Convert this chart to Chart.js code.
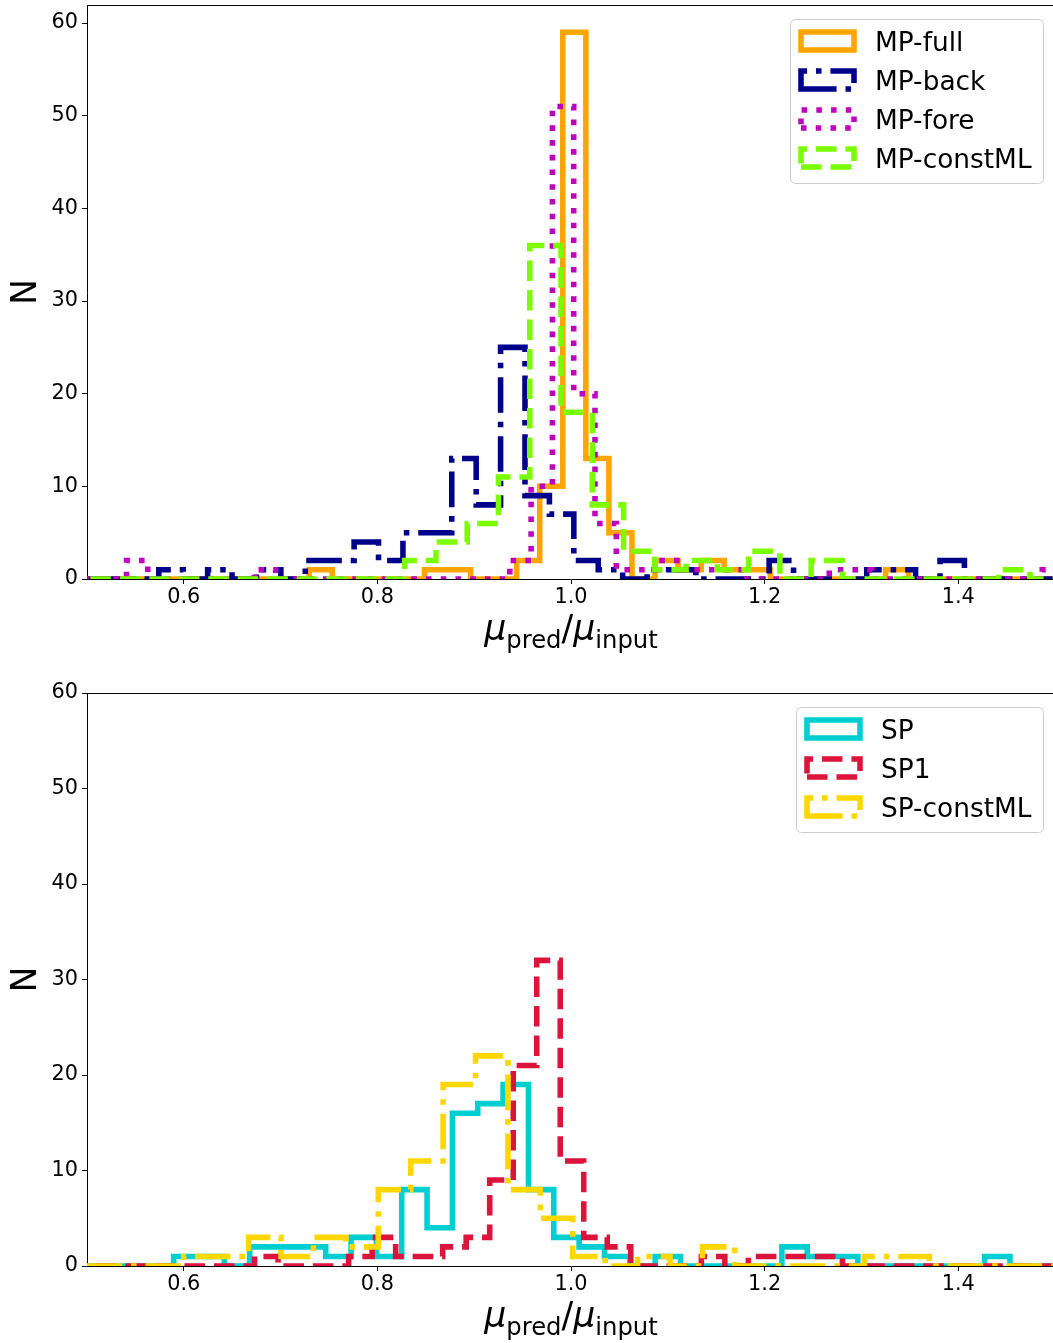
<!DOCTYPE html>
<html>
<head>
<meta charset="utf-8">
<title>Ratio histograms</title>
<script src="https://cdn.jsdelivr.net/npm/chart.js@4.4.1/dist/chart.umd.min.js"></script>
<style>
  html, body { margin: 0; padding: 0; background: #ffffff; overflow: hidden; }
  canvas { position: absolute; left: 0; display: block; }
  #mpPanel { top: 0; }
  #spPanel { top: 671px; }
</style>
</head>
<body>
<canvas id="mpPanel" width="1056" height="671"></canvas>
<canvas id="spPanel" width="1056" height="672"></canvas>
<script>
// ---- axis ticks ----
const xTickValues = [0.6, 0.8, 1.0, 1.2, 1.4];
const yTickValues = [0, 10, 20, 30, 40, 50, 60];

// ---- MP runs (upper panel): first bin edge, bin width, counts ----
const mpFullStart = 0.4913, mpFullWidth = 0.02382;
const mpFullCounts = [0,0,0,0,0,0,0,0,0,0, 1, 0,0,0,0, 1,1, 0,0,
  2,10,59,13,5,0,2,1,2,1,1, 0,0,0,0,0, 1, 0,0,0,0,0,0,0];

const mpBackStart = 0.4733, mpBackWidth = 0.02522;
const mpBackCounts = [0,0,0,0,1,0,1,0,1,0,2,2,4,2,5,5,13,8,25,9,7,2,1,0,1,1,
  0,0,0,2,0,0,0,1,1,0,2,0,0,0,0];

const mpForeStart = 0.4968, mpForeWidth = 0.02200;
const mpForeCounts = [0,0, 2, 0,0,0,0,0, 1, 0,0,0,0,0,0,0,0,0,0,0,
  2,10,51,20,6,1,1,2,1,1,1, 0,0,0,0, 1,1, 0,0,0,0,0,0,0,0, 1];

const mpConstStart = 0.4729, mpConstWidth = 0.03230;
const mpConstCounts = [0,0,0,0,0,0,0,0,0,0,0,
  2,4,6,11,36,18,8,3,1,2,1,3,0,2, 0,0,0,0,0, 1, 0];

// ---- SP runs (lower panel) ----
const spStart = 0.4848, spWidth = 0.02618;
const spCounts = [0,0,0,0, 1,1,0,2,2,2,1,3,1,
  8,4,16,17,19,8,3,2,1,0,1, 0,0,0,0, 2,1,1, 0,0,0,0,0, 1, 0,0,0];

const sp1Start = 0.4788, sp1Width = 0.02429;
const sp1Counts = [0,0,0,0,0,0,0,0, 1,0,0,0,1,3,1,1,2,3,9,21,
  32,11,3,2,0,0,0,1,0,1,1,1,1, 0,0,0,0,0,0,0,0,0,0];

const spConstStart = 0.4660, spConstWidth = 0.03349;
const spConstCounts = [1,0,0,0,1,1,3,1,3,2,8,
  11,19,22,8,5,1,0,1,0,2, 0,0,0,0, 1,1, 0,0,0,0,0];

const mpLabels = ['MP-full', 'MP-back', 'MP-fore', 'MP-constML'];
const spLabels = ['SP', 'SP1', 'SP-constML'];

// ---- styling ----
const LINE_W = 5.56;
const DASH = {
  solid: [],
  dashed: [20.6, 8.9],
  dashdot: [35.6, 8.9, 5.56, 8.9],
  dotted: [5.56, 9.17]
};
const FONT = '"DejaVu Sans", "Liberation Sans", sans-serif';
Chart.defaults.font.family = FONT;
Chart.defaults.color = '#000000';

// step outline of a histogram: rise at the first edge, one point per bin, drop at the last edge
function stepOutline(start, width, counts) {
  const pts = [{ x: start, y: 0 }];
  counts.forEach((c, i) => pts.push({ x: start + i * width, y: c }));
  pts.push({ x: start + counts.length * width, y: 0 });
  return pts;
}

// top and right spines
const spinePlugin = {
  id: 'spines',
  afterDraw(chart) {
    const { ctx, chartArea: a } = chart;
    ctx.save();
    ctx.strokeStyle = '#000000';
    ctx.lineWidth = 1;
    ctx.beginPath();
    ctx.moveTo(a.left, a.top + 0.5);
    ctx.lineTo(a.right, a.top + 0.5);
    ctx.moveTo(a.right - 0.5, a.top);
    ctx.lineTo(a.right - 0.5, a.bottom);
    ctx.stroke();
    ctx.restore();
  }
};

// x-axis label  mu_pred / mu_input  with subscripts
const ratioLabelPlugin = {
  id: 'ratioLabel',
  afterDraw(chart) {
    const { ctx, chartArea: a } = chart;
    const big = 34.7, small = 24.3, drop = 7.5;
    const parts = [
      { t: 'μ', f: `oblique ${big}px ${FONT}`, dy: 0 },
      { t: 'pred', f: `${small}px ${FONT}`, dy: drop },
      { t: '/', f: `${big}px ${FONT}`, dy: 0 },
      { t: 'μ', f: `oblique ${big}px ${FONT}`, dy: 0 },
      { t: 'input', f: `${small}px ${FONT}`, dy: drop }
    ];
    ctx.save();
    let total = 0;
    parts.forEach(p => { ctx.font = p.f; p.w = ctx.measureText(p.t).width; total += p.w; });
    let x = (a.left + a.right) / 2 - total / 2;
    const base = a.bottom + 61;
    ctx.fillStyle = '#000000';
    ctx.textBaseline = 'alphabetic';
    ctx.textAlign = 'left';
    parts.forEach(p => { ctx.font = p.f; ctx.fillText(p.t, x, base + p.dy); x += p.w; });
    ctx.restore();
  }
};

// framed legend inside the upper-right corner of the plot
const boxLegendPlugin = {
  id: 'boxLegend',
  afterDraw(chart) {
    const { ctx, chartArea: a } = chart;
    const sets = chart.data.datasets;
    const fs = 26.4, rowH = 39;
    ctx.save();
    ctx.font = `${fs}px ${FONT}`;
    const textW = Math.max(...sets.map(d => ctx.measureText(d.label).width));
    const right = a.right - 11.5;
    const left = Math.round(right - (84.5 + textW + 12)) + 0.5;
    const top = a.top + 14.5;
    const h = sets.length * rowH + 8;
    ctx.beginPath();
    ctx.roundRect(left, top, right - left, h, 5);
    ctx.fillStyle = 'rgba(255,255,255,0.8)';
    ctx.fill();
    ctx.strokeStyle = '#cccccc';
    ctx.lineWidth = 1;
    ctx.stroke();
    sets.forEach((d, i) => {
      const cy = top + 21.5 + i * rowH;
      const hx = left + 10.5, hw = 53, hh = 18, hy = cy - hh / 2;
      ctx.beginPath();
      ctx.moveTo(hx, hy + hh);
      ctx.lineTo(hx + hw, hy + hh);
      ctx.lineTo(hx + hw, hy);
      ctx.lineTo(hx, hy);
      ctx.closePath();
      ctx.setLineDash(d.borderDash);
      ctx.lineWidth = LINE_W;
      ctx.lineJoin = 'miter';
      ctx.lineCap = 'butt';
      ctx.strokeStyle = d.borderColor;
      ctx.stroke();
      ctx.setLineDash([]);
      ctx.fillStyle = '#000000';
      ctx.textBaseline = 'alphabetic';
      ctx.textAlign = 'left';
      ctx.fillText(d.label, hx + hw + 21, cy + 0.3645 * fs);
    });
    ctx.restore();
  }
};

function makePanel(canvasId, series, yMax, padTop, areaBottom) {
  const canvas = document.getElementById(canvasId);
  const H = canvas.height;
  const tickGrid = {
    display: true, drawOnChartArea: false, drawTicks: true,
    tickLength: 5, tickWidth: 1, tickColor: '#000000'
  };
  return new Chart(canvas, {
    type: 'line',
    data: {
      datasets: series.map((s, i) => ({
        label: s.label,
        data: stepOutline(s.start, s.width, s.counts),
        borderColor: s.color,
        backgroundColor: 'transparent',
        borderWidth: LINE_W,
        borderDash: s.dash,
        borderJoinStyle: 'miter',
        borderCapStyle: 'butt',
        stepped: 'before',
        pointRadius: 0,
        pointHoverRadius: 0,
        fill: false,
        clip: 0,
        order: series.length - i
      }))
    },
    options: {
      responsive: false,
      animation: false,
      devicePixelRatio: 1,
      events: [],
      layout: { padding: { top: padTop, right: 1, bottom: 0, left: 0 } },
      plugins: { legend: { display: false }, tooltip: { enabled: false } },
      scales: {
        x: {
          type: 'linear', min: 0.5, max: 1.5, z: 1,
          grid: tickGrid,
          border: { display: true, color: '#000000', width: 1 },
          ticks: {
            color: '#000000', font: { size: 20.8 }, padding: 1,
            maxRotation: 0, autoSkip: false,
            callback: v => Number(v).toFixed(1)
          },
          afterBuildTicks: sc => { sc.ticks = xTickValues.map(v => ({ value: v })); },
          afterFit: sc => { sc.height = H - areaBottom; sc.paddingLeft = 0; sc.paddingRight = 0; }
        },
        y: {
          type: 'linear', min: 0, max: yMax, z: 1,
          grid: tickGrid,
          border: { display: true, color: '#000000', width: 1 },
          ticks: { color: '#000000', font: { size: 20.8 }, padding: 4 },
          title: {
            display: true, text: 'N', color: '#000000',
            font: { size: 34.7 }, padding: { top: 6, bottom: 0 }
          },
          afterBuildTicks: sc => { sc.ticks = yTickValues.map(v => ({ value: v })); },
          afterFit: sc => { sc.width = 87; sc.paddingTop = 0; sc.paddingBottom = 0; }
        }
      }
    },
    plugins: [spinePlugin, ratioLabelPlugin, boxLegendPlugin]
  });
}

makePanel('mpPanel', [
  { label: mpLabels[0], start: mpFullStart, width: mpFullWidth, counts: mpFullCounts, color: '#ffa500', dash: DASH.solid },
  { label: mpLabels[1], start: mpBackStart, width: mpBackWidth, counts: mpBackCounts, color: '#00008b', dash: DASH.dashdot },
  { label: mpLabels[2], start: mpForeStart, width: mpForeWidth, counts: mpForeCounts, color: '#bf00bf', dash: DASH.dotted },
  { label: mpLabels[3], start: mpConstStart, width: mpConstWidth, counts: mpConstCounts, color: '#7cfc00', dash: DASH.dashed }
], 61.95, 5, 579);

makePanel('spPanel', [
  { label: spLabels[0], start: spStart, width: spWidth, counts: spCounts, color: '#00ced1', dash: DASH.solid },
  { label: spLabels[1], start: sp1Start, width: sp1Width, counts: sp1Counts, color: '#dc143c', dash: DASH.dashed },
  { label: spLabels[2], start: spConstStart, width: spConstWidth, counts: spConstCounts, color: '#ffd700', dash: DASH.dashdot }
], 60, 22, 595);
</script>
</body>
</html>
